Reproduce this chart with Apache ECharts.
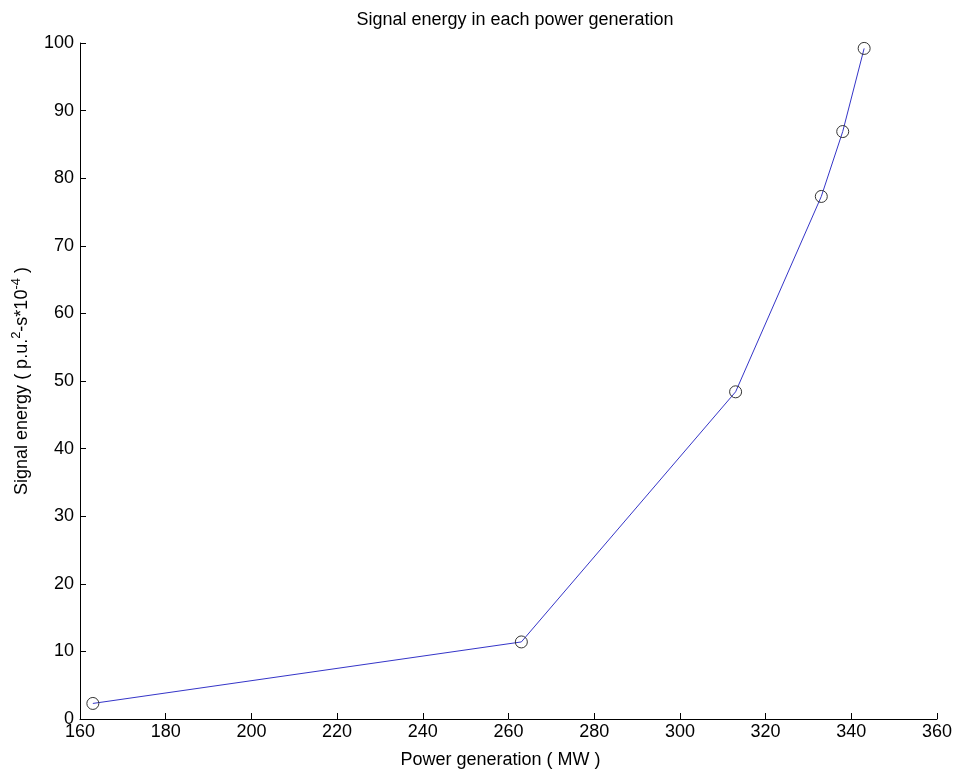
<!DOCTYPE html>
<html>
<head>
<meta charset="utf-8">
<title>Signal energy in each power generation</title>
<script src="https://cdn.jsdelivr.net/npm/echarts@6/dist/echarts.min.js"></script>
<style>
  html, body { margin: 0; padding: 0; background: #fff; }
  #chart { width: 959px; height: 774px; }
</style>
</head>
<body>
<div id="chart"></div>
<script>
// power generation (MW)
var powerGen = [163, 263, 313, 333, 338, 343];
// signal energy (p.u.^2-s*10^-4)
var signalEnergy = [2.3, 11.4, 48.4, 77.3, 86.9, 99.2];
var xTicks = { min: 160, max: 360, step: 20 };
var yTicks = { min: 0, max: 100, step: 10 };

var myChart = echarts.init(document.getElementById('chart'));
var font = 'Liberation Sans, Arial, sans-serif';

var option = {
  backgroundColor: '#fff',
  animation: false,
  title: {
    text: 'Signal energy in each power generation',
    left: 510,
    textAlign: 'center',
    top: 6,
    textStyle: { fontFamily: font, fontSize: 18, fontWeight: 'normal', color: '#000' }
  },
  grid: { left: 80, right: 22, top: 43, bottom: 55, containLabel: false, outerBoundsMode: 'none' },
  xAxis: {
    type: 'value',
    min: xTicks.min,
    max: xTicks.max,
    interval: xTicks.step,
    name: 'Power generation ( MW )',
    nameLocation: 'middle',
    nameGap: 32,
    nameTextStyle: { fontFamily: font, fontSize: 18, color: '#000', padding: [0, 16, 0, 0] },
    axisLine: { onZero: false, lineStyle: { color: '#000', width: 1 } },
    axisTick: { inside: true, length: 6, lineStyle: { color: '#000' } },
    axisLabel: { fontFamily: font, fontSize: 18, color: '#000', margin: 4 },
    splitLine: { show: false }
  },
  yAxis: {
    type: 'value',
    min: yTicks.min,
    max: yTicks.max,
    interval: yTicks.step,
    name: 'Signal energy ( p.u.{sup|2}-s*10{sup|-4} )',
    nameLocation: 'middle',
    nameGap: 45,
    nameTextStyle: {
      fontFamily: font, fontSize: 18, color: '#000',
      rich: {
        sup: { fontFamily: font, fontSize: 13, color: '#000', verticalAlign: 'top', padding: [0, 0, 12, 0] }
      }
    },
    axisLine: { lineStyle: { color: '#000', width: 1 } },
    axisTick: { inside: true, length: 6, lineStyle: { color: '#000' } },
    axisLabel: { fontFamily: font, fontSize: 18, color: '#000', margin: 6 },
    splitLine: { show: false }
  },
  series: [{
    type: 'line',
    data: powerGen.map(function (x, i) { return [x, signalEnergy[i]]; }),
    symbol: 'circle',
    symbolSize: 12,
    showAllSymbol: true,
    lineStyle: { color: '#3535c8', width: 1 },
    itemStyle: { color: 'transparent', borderColor: '#333', borderWidth: 1 },
    z: 2
  }]
};
myChart.setOption(option);
</script>
</body>
</html>
